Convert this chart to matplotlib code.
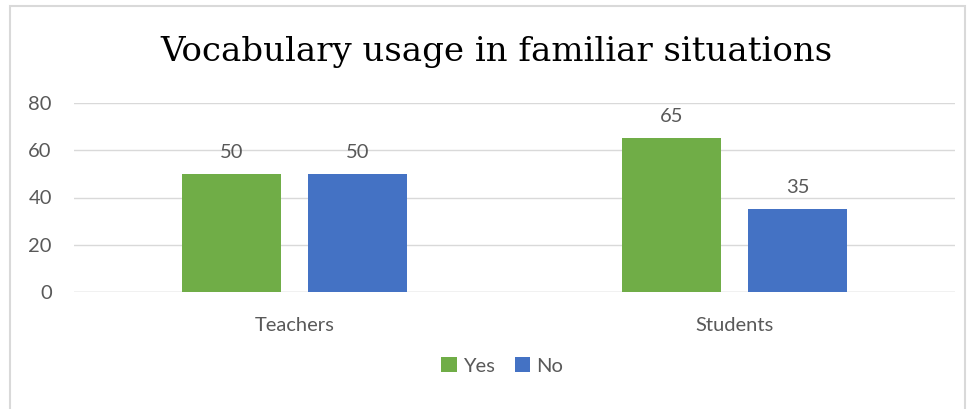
import numpy as np
import matplotlib
matplotlib.use("Agg")
import matplotlib.pyplot as plt
from matplotlib.patches import Rectangle

categories = ["Teachers", "Students"]
series_names = ["Yes", "No"]
yes_values = [50, 65]
no_values = [50, 35]
y_ticks = [0, 20, 40, 60, 80]

colors = ["#70AD47", "#4472C4"]
text_gray = "#595959"
fs = 14.5

plt.rcParams["font.family"] = ["Lato", "DejaVu Sans"]

fig = plt.figure(figsize=(9.79, 4.09), dpi=100)
W, H = 979, 409

# chart frame
fig.patches.append(Rectangle((10 / W, -0.1), 955 / W, 1.1 - 6 / H,
                             transform=fig.transFigure, fill=False,
                             edgecolor="#D9D9D9", linewidth=1.5))

ax = fig.add_axes([74 / W, 1 - 292 / H, 881 / W, 189 / H])
x = np.arange(len(categories))
width = 0.225
offset = (width + 0.061) / 2

for vals, name, c, dx in [(yes_values, series_names[0], colors[0], -offset),
                          (no_values, series_names[1], colors[1], offset)]:
    bars = ax.bar(x + dx, vals, width, color=c, label=name, zorder=3)
    for b, v in zip(bars, vals):
        ax.text(b.get_x() + b.get_width() / 2, v + 5.5, str(v),
                ha="center", va="bottom", fontsize=fs, color=text_gray)

ax.set_xlim(-0.5, 1.5)
ax.set_ylim(0, 80)
ax.set_yticks(y_ticks)
ax.set_xticks(x)
ax.set_xticklabels(categories)
ax.tick_params(axis="both", length=0, labelsize=fs, labelcolor=text_gray)
ax.tick_params(axis="y", pad=16)
ax.tick_params(axis="x", pad=18)
ax.grid(axis="y", color="#D9D9D9", linewidth=1, zorder=0)
for s in ax.spines.values():
    s.set_visible(False)
ax.axhline(0, color="#D9D9D9", linewidth=1, zorder=1)

fig.text(496 / W, 1 - 52 / H, "Vocabulary usage in familiar situations",
         ha="center", va="center", fontsize=24.5, family="DejaVu Serif",
         color="black")

ax.legend(loc="center", bbox_to_anchor=(502 / W, 1 - 366 / H),
          bbox_transform=fig.transFigure, ncol=2, frameon=False,
          fontsize=fs, labelcolor=text_gray, handlelength=0.75,
          handleheight=0.75, handletextpad=0.3, columnspacing=1.0)

fig.savefig("out.png", dpi=100, facecolor="white")
